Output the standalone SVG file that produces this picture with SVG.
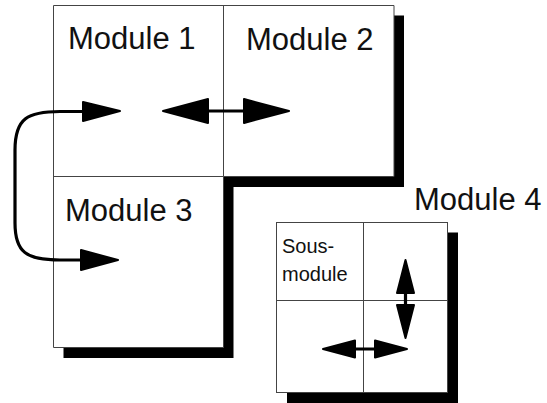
<svg xmlns="http://www.w3.org/2000/svg" width="547" height="403" viewBox="0 0 547 403">
<style>
.shadow{fill:#000}
.box{fill:#fff;stroke:#444;stroke-width:1}
.div{stroke:#444;stroke-width:1;fill:none}
.big{font-family:"Liberation Sans",Arial,sans-serif;font-size:31px;fill:#111}
.small{font-family:"Liberation Sans",Arial,sans-serif;font-size:20px;fill:#111}
.line{stroke:#000;stroke-width:3.2;fill:none;stroke-linecap:round}
.head{fill:#000;stroke:#000;stroke-width:2;stroke-linejoin:round}
</style>
<rect width="547" height="403" fill="#fff"/>
<g id="group-main">
<polygon class="shadow" points="63.5,15.5 404,15.5 404,187 233.5,187 233.5,358 63.5,358"/>
<polygon class="box" points="53.5,5.5 394,5.5 394,176.5 223.5,176.5 223.5,347.5 53.5,347.5"/>
<line class="div" x1="223.5" y1="5.5" x2="223.5" y2="176.5"/>
<line class="div" x1="53.5" y1="176.5" x2="223.5" y2="176.5"/>
</g>
<g id="module1"><text class="big" x="68" y="48.5">Module 1</text></g>
<g id="module2"><text class="big" x="246" y="50">Module 2</text></g>
<g id="module3"><text class="big" x="65" y="220.5">Module 3</text></g>
<g id="module4">
<rect class="shadow" x="287" y="232.5" width="171" height="171"/>
<rect class="box" x="276.5" y="222.5" width="171" height="170"/>
<line class="div" x1="363.5" y1="222.5" x2="363.5" y2="392.5"/>
<line class="div" x1="276.5" y1="300.5" x2="447.5" y2="300.5"/>
<text class="big" x="414" y="210">Module 4</text>
</g>
<g id="sousmodule">
<text class="small" x="282" y="253">Sous-</text>
<text class="small" x="282" y="281">module</text>
</g>
<g id="connectors">
<path class="line" d="M84,111.5 L60,111.5 C28,111.5 15,118 15,150 L15,223 C15,252 26,260 60,260 L82,260"/>
<polygon class="head" points="83,102 120,111 83,121"/>
<polygon class="head" points="81,250 118,260 81,270"/>
<line class="line" x1="205" y1="111" x2="247" y2="111"/>
<polygon class="head" points="208,99 163,111 208,123"/>
<polygon class="head" points="244,99 289,111 244,123"/>
<line class="line" x1="405.5" y1="290" x2="405.5" y2="308"/>
<polygon class="head" points="397,293 405.5,260 414,293"/>
<polygon class="head" points="397,305 405.5,338 414,305"/>
<line class="line" x1="352" y1="349" x2="378" y2="349"/>
<polygon class="head" points="355,340.5 323,349 355,357.5"/>
<polygon class="head" points="375,340.5 407,349 375,357.5"/>
</g>
</svg>
